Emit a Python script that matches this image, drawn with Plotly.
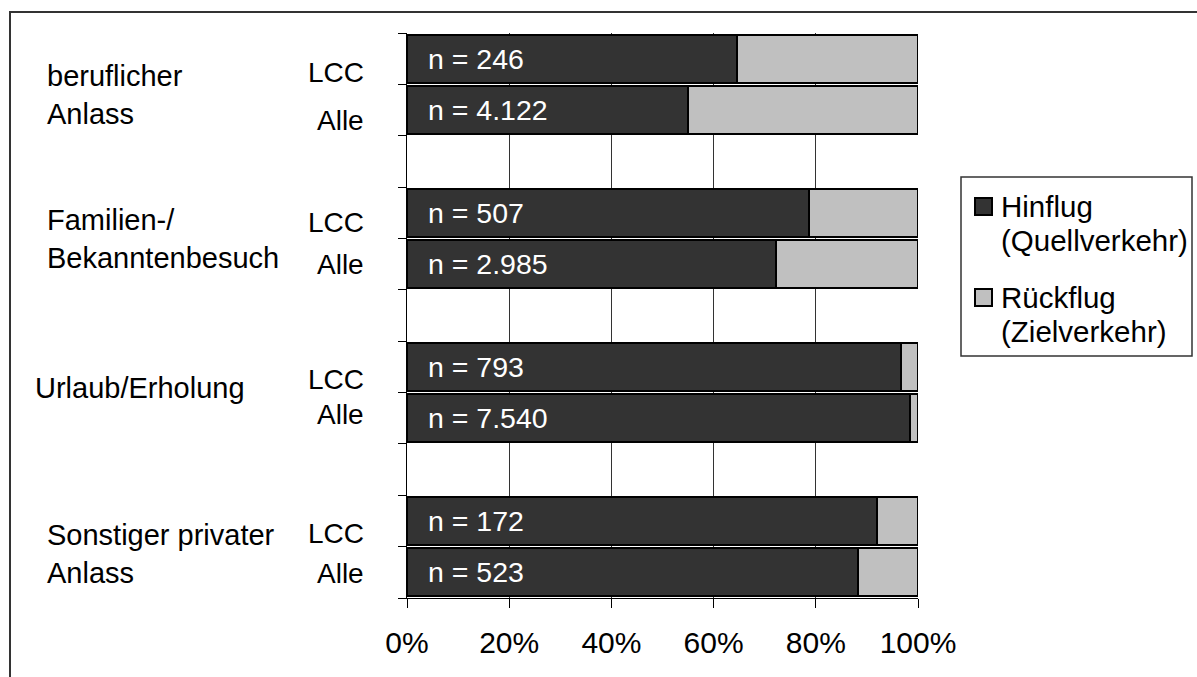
import plotly.graph_objects as go

# Trip purposes and the two passenger groups per purpose
purposes = ["beruflicher<br>Anlass", "Familien-/<br>Bekanntenbesuch",
            "Urlaub/Erholung", "Sonstiger privater<br>Anlass"]
groups = ["LCC", "Alle"]

# Share of outbound (Hinflug) and return (Rückflug) flights in percent,
# ordered LCC, Alle per purpose
hinflug = [64.5, 55.0, 78.6, 72.3, 96.6, 98.4, 92.0, 88.3]
rueckflug = [35.5, 45.0, 21.4, 27.7, 3.4, 1.6, 8.0, 11.7]

# Sample sizes per bar
sample_n = ["246", "4.122", "507", "2.985", "793", "7.540", "172", "523"]

x_ticks = [0, 20, 40, 60, 80, 100]
x_tick_labels = ["0%", "20%", "40%", "60%", "80%", "100%"]

FONT = "Liberation Sans, Arial, sans-serif"
W, H = 1197, 677
PL, PR, PT, PB = 407, 918, 33, 598  # plot area in pixels

# one empty slot between purposes
rows = [p * 3 + g for p in range(len(purposes)) for g in range(len(groups))]


def px_x(px):
    return (px - PL) / (PR - PL)


def px_y(py):
    return (PB - py) / (PB - PT)


fig = go.Figure()
fig.add_trace(go.Bar(
    y=rows, x=hinflug, orientation="h", name="Hinflug (Quellverkehr)",
    marker=dict(color="#333333", line=dict(color="#000000", width=2)),
    showlegend=False, hoverinfo="skip",
))
fig.add_trace(go.Bar(
    y=rows, x=rueckflug, orientation="h", name="Rückflug (Zielverkehr)",
    marker=dict(color="#c0c0c0", line=dict(color="#000000", width=2)),
    showlegend=False, hoverinfo="skip",
))

annotations = []
# sample size inside each bar
for r, n in zip(rows, sample_n):
    annotations.append(dict(
        x=0, y=r, xref="x", yref="y", text=f"n = {n}", showarrow=False,
        xanchor="left", yanchor="middle", xshift=19,
        font=dict(family=FONT, size=28.5, color="#ffffff"),
    ))

# purpose labels on the left
purpose_pos = [(45, 95), (45, 239), (33, 388), (45, 554)]
for text, (lx, ly) in zip(purposes, purpose_pos):
    annotations.append(dict(
        x=px_x(lx), y=px_y(ly), xref="paper", yref="paper", text=text,
        showarrow=False, xanchor="left", yanchor="middle", align="left",
        font=dict(family=FONT, size=29, color="#000000"),
    ))

# group labels next to the axis
group_y = [72, 120, 222, 264, 379, 414, 533, 573]
for i, gy in enumerate(group_y):
    annotations.append(dict(
        x=px_x(366), y=px_y(gy), xref="paper", yref="paper",
        text=groups[i % 2], showarrow=False, xanchor="right", yanchor="middle",
        font=dict(family=FONT, size=28, color="#000000"),
    ))

# legend entries
legend_lines = [("Hinflug", 206), ("(Quellverkehr)", 240),
                ("Rückflug", 297), ("(Zielverkehr)", 331)]
for text, ly in legend_lines:
    annotations.append(dict(
        x=px_x(999), y=px_y(ly), xref="paper", yref="paper", text=text,
        showarrow=False, xanchor="left", yanchor="middle",
        font=dict(family=FONT, size=29.5, color="#000000"),
    ))

shapes = [
    # outer frame
    dict(type="rect", xref="paper", yref="paper",
         x0=px_x(10), x1=px_x(1210), y0=px_y(12), y1=px_y(690),
         line=dict(color="#333333", width=2), fillcolor="rgba(0,0,0,0)"),
    # legend box
    dict(type="rect", xref="paper", yref="paper",
         x0=px_x(961), x1=px_x(1192), y0=px_y(177), y1=px_y(356),
         line=dict(color="#333333", width=1.5), fillcolor="#ffffff"),
    # legend swatches
    dict(type="rect", xref="paper", yref="paper",
         x0=px_x(975), x1=px_x(992), y0=px_y(198), y1=px_y(215),
         line=dict(color="#000000", width=2), fillcolor="#333333"),
    dict(type="rect", xref="paper", yref="paper",
         x0=px_x(975), x1=px_x(992), y0=px_y(289), y1=px_y(306),
         line=dict(color="#000000", width=2), fillcolor="#c0c0c0"),
]

fig.update_layout(
    width=W, height=H,
    margin=dict(l=PL, r=W - PR, t=PT, b=H - PB, pad=0),
    barmode="stack", bargap=0.07,
    plot_bgcolor="#ffffff", paper_bgcolor="#ffffff",
    showlegend=False,
    annotations=annotations, shapes=shapes,
    font=dict(family=FONT, size=28, color="#000000"),
)
fig.update_xaxes(
    range=[0, 100], tickvals=x_ticks, ticktext=x_tick_labels,
    showgrid=True, gridcolor="#333333", gridwidth=1, zeroline=False,
    showline=True, linecolor="#000000", linewidth=1,
    ticks="outside", ticklen=9, tickcolor="#000000",
    ticklabelstandoff=9,
    tickfont=dict(family=FONT, size=30, color="#000000"),
)
fig.update_yaxes(
    range=[10.5, -0.5], tickvals=[i - 0.5 for i in range(12)],
    showticklabels=False, showgrid=False, zeroline=False,
    showline=True, linecolor="#000000", linewidth=1,
    ticks="outside", ticklen=8, tickcolor="#000000",
)

fig.write_html("out.html")
